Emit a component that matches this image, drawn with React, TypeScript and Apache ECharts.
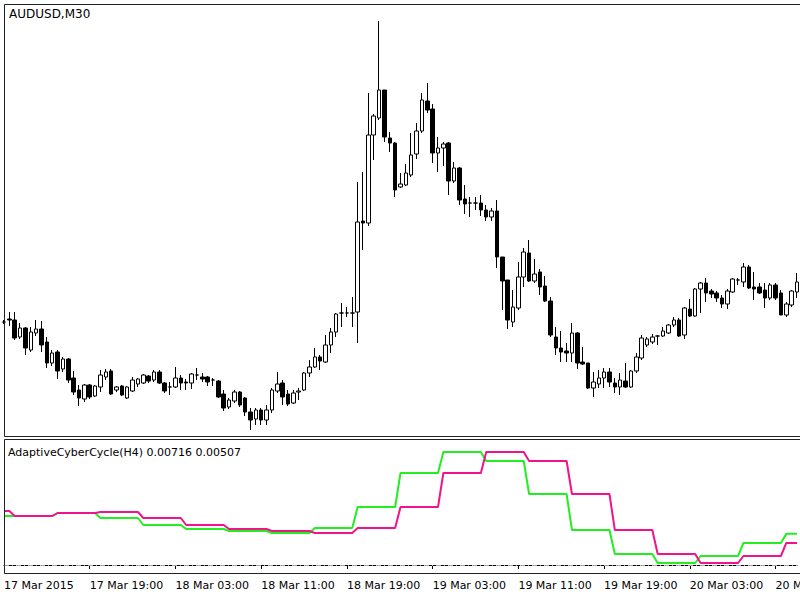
import React, { useEffect, useRef } from "react";
import * as echarts from "echarts";

// AUDUSD M30 bars, starting 17 Mar 2015 11:00
const openPrices = [
  0.76390, 0.76405, 0.76400, 0.76315, 0.76360, 0.76250, 0.76335, 0.76355, 0.76290, 0.76185,
  0.76240, 0.76155, 0.76205, 0.76110, 0.76050, 0.76005, 0.76075, 0.76020, 0.76065, 0.76115,
  0.76145, 0.76050, 0.76070, 0.76010, 0.76045, 0.76080, 0.76085, 0.76120, 0.76100, 0.76140,
  0.76085, 0.76065, 0.76065, 0.76110, 0.76090, 0.76085, 0.76125, 0.76115, 0.76115, 0.76100,
  0.76095, 0.76030, 0.75965, 0.75995, 0.76040, 0.76010, 0.75940, 0.75905, 0.75950, 0.75900,
  0.75950, 0.76045, 0.76085, 0.76030, 0.75985, 0.76040, 0.76050, 0.76135, 0.76165, 0.76215,
  0.76190, 0.76275, 0.76340, 0.76435, 0.76435, 0.76435, 0.76440, 0.76895, 0.76885, 0.77325,
  0.77410, 0.77550, 0.77310, 0.77285, 0.77065, 0.77075, 0.77125, 0.77230, 0.77345, 0.77495,
  0.77455, 0.77235, 0.77260, 0.77285, 0.77095, 0.77160, 0.77005, 0.76985, 0.76985, 0.76985,
  0.76950, 0.76915, 0.76945, 0.76715, 0.76600, 0.76390, 0.76460, 0.76615, 0.76735, 0.76595,
  0.76640, 0.76570, 0.76495, 0.76315, 0.76260, 0.76245, 0.76235, 0.76335, 0.76190, 0.76185,
  0.76060, 0.76080, 0.76110, 0.76140, 0.76085, 0.76065, 0.76095, 0.76065, 0.76145, 0.76210,
  0.76275, 0.76290, 0.76320, 0.76320, 0.76335, 0.76375, 0.76400, 0.76325, 0.76455, 0.76420,
  0.76555, 0.76585, 0.76545, 0.76535, 0.76510, 0.76480, 0.76540, 0.76600, 0.76590, 0.76665,
  0.76565, 0.76565, 0.76550, 0.76510, 0.76575, 0.76535, 0.76425, 0.76475, 0.76540,
];
const closePrices = [
  0.76390, 0.76400, 0.76310, 0.76360, 0.76260, 0.76340, 0.76355, 0.76275, 0.76185, 0.76235,
  0.76145, 0.76205, 0.76100, 0.76040, 0.76010, 0.76075, 0.76015, 0.76070, 0.76125, 0.76140,
  0.76030, 0.76065, 0.76025, 0.76065, 0.76100, 0.76105, 0.76125, 0.76095, 0.76140, 0.76085,
  0.76045, 0.76065, 0.76110, 0.76085, 0.76085, 0.76130, 0.76125, 0.76105, 0.76090, 0.76100,
  0.76015, 0.75960, 0.76000, 0.76040, 0.75975, 0.75940, 0.75900, 0.75950, 0.75900, 0.75950,
  0.76050, 0.76080, 0.76015, 0.75980, 0.76035, 0.76045, 0.76135, 0.76165, 0.76215, 0.76195,
  0.76275, 0.76340, 0.76430, 0.76435, 0.76435, 0.76435, 0.76890, 0.76885, 0.77325, 0.77420,
  0.77550, 0.77315, 0.77285, 0.77050, 0.77080, 0.77135, 0.77225, 0.77345, 0.77500, 0.77450,
  0.77235, 0.77260, 0.77280, 0.77095, 0.77160, 0.77000, 0.76980, 0.76985, 0.76985, 0.76950,
  0.76915, 0.76945, 0.76715, 0.76595, 0.76400, 0.76465, 0.76615, 0.76740, 0.76595, 0.76630,
  0.76565, 0.76495, 0.76325, 0.76260, 0.76240, 0.76235, 0.76335, 0.76185, 0.76180, 0.76060,
  0.76090, 0.76110, 0.76140, 0.76090, 0.76065, 0.76100, 0.76065, 0.76145, 0.76215, 0.76310,
  0.76305, 0.76315, 0.76320, 0.76345, 0.76375, 0.76400, 0.76320, 0.76460, 0.76420, 0.76555,
  0.76585, 0.76535, 0.76530, 0.76510, 0.76480, 0.76545, 0.76605, 0.76600, 0.76665, 0.76560,
  0.76555, 0.76535, 0.76510, 0.76575, 0.76510, 0.76425, 0.76480, 0.76545, 0.76590,
];
const lowPrices = [
  0.76380, 0.76370, 0.76300, 0.76305, 0.76225, 0.76240, 0.76320, 0.76240, 0.76160, 0.76170,
  0.76105, 0.76140, 0.76085, 0.76025, 0.75970, 0.75990, 0.76005, 0.76015, 0.76040, 0.76100,
  0.76025, 0.76040, 0.76020, 0.76005, 0.76040, 0.76065, 0.76080, 0.76085, 0.76090, 0.76080,
  0.76035, 0.76025, 0.76060, 0.76050, 0.76050, 0.76055, 0.76100, 0.76090, 0.76070, 0.76070,
  0.76010, 0.75945, 0.75955, 0.75985, 0.75965, 0.75920, 0.75850, 0.75875, 0.75875, 0.75875,
  0.75935, 0.76035, 0.75975, 0.75970, 0.75980, 0.76000, 0.76045, 0.76115, 0.76160, 0.76150,
  0.76185, 0.76235, 0.76315, 0.76365, 0.76415, 0.76365, 0.76285, 0.76750, 0.76870, 0.77200,
  0.77400, 0.77290, 0.77240, 0.77015, 0.77060, 0.77070, 0.77115, 0.77205, 0.77335, 0.77435,
  0.77185, 0.77140, 0.77170, 0.77025, 0.77085, 0.76975, 0.76930, 0.76915, 0.76950, 0.76920,
  0.76895, 0.76895, 0.76660, 0.76450, 0.76355, 0.76365, 0.76450, 0.76565, 0.76590, 0.76585,
  0.76525, 0.76490, 0.76315, 0.76225, 0.76190, 0.76190, 0.76190, 0.76155, 0.76175, 0.76055,
  0.76015, 0.76060, 0.76060, 0.76065, 0.76035, 0.76025, 0.76060, 0.76060, 0.76135, 0.76200,
  0.76265, 0.76280, 0.76275, 0.76315, 0.76330, 0.76365, 0.76315, 0.76305, 0.76415, 0.76415,
  0.76435, 0.76490, 0.76510, 0.76490, 0.76460, 0.76455, 0.76535, 0.76575, 0.76565, 0.76555,
  0.76500, 0.76530, 0.76460, 0.76500, 0.76500, 0.76425, 0.76415, 0.76465, 0.76510,
];
const highPrices = [
  0.76400, 0.76440, 0.76440, 0.76385, 0.76365, 0.76365, 0.76400, 0.76395, 0.76315, 0.76250,
  0.76250, 0.76215, 0.76210, 0.76145, 0.76075, 0.76080, 0.76080, 0.76075, 0.76150, 0.76155,
  0.76155, 0.76070, 0.76075, 0.76070, 0.76115, 0.76110, 0.76130, 0.76125, 0.76150, 0.76150,
  0.76090, 0.76090, 0.76165, 0.76125, 0.76105, 0.76135, 0.76160, 0.76135, 0.76120, 0.76110,
  0.76100, 0.76050, 0.76010, 0.76050, 0.76045, 0.76015, 0.75960, 0.75960, 0.75960, 0.75975,
  0.76060, 0.76140, 0.76100, 0.76050, 0.76050, 0.76060, 0.76140, 0.76200, 0.76260, 0.76225,
  0.76325, 0.76360, 0.76435, 0.76485, 0.76465, 0.76515, 0.77090, 0.77140, 0.77535, 0.77430,
  0.77895, 0.77550, 0.77340, 0.77290, 0.77135, 0.77180, 0.77335, 0.77385, 0.77535, 0.77585,
  0.77480, 0.77315, 0.77290, 0.77290, 0.77190, 0.77165, 0.77075, 0.77015, 0.77015, 0.77025,
  0.76975, 0.76960, 0.77000, 0.76715, 0.76600, 0.76550, 0.76690, 0.76760, 0.76800, 0.76705,
  0.76655, 0.76620, 0.76515, 0.76365, 0.76345, 0.76285, 0.76385, 0.76340, 0.76265, 0.76185,
  0.76140, 0.76150, 0.76160, 0.76160, 0.76110, 0.76135, 0.76185, 0.76150, 0.76235, 0.76325,
  0.76315, 0.76330, 0.76325, 0.76365, 0.76380, 0.76415, 0.76410, 0.76465, 0.76505, 0.76560,
  0.76590, 0.76610, 0.76555, 0.76545, 0.76525, 0.76555, 0.76610, 0.76610, 0.76685, 0.76675,
  0.76640, 0.76585, 0.76585, 0.76585, 0.76585, 0.76550, 0.76490, 0.76550, 0.76635,
];

// AdaptiveCyberCycle on H4, one value per H4 bar (17 Mar 08:00 .. 20 Mar 12:00)
const cycleH4 = [
  0.01127, 0.01127, 0.01196, 0.01081, 0.00920, 0.00828, 0.00782, 0.00736, 0.00851, 0.01334,
  0.02116, 0.02599, 0.02392, 0.01633, 0.00805, 0.00253, 0.00046, 0.00207, 0.00507, 0.00716,
];
const triggerH4 = [
  0.01242, 0.01127, 0.01196, 0.01219, 0.01081, 0.00920, 0.00828, 0.00782, 0.00736, 0.00851,
  0.01334, 0.02116, 0.02599, 0.02392, 0.01633, 0.00805, 0.00253, 0.00046, 0.00207, 0.00507,
];

const tickLabels = [
  "17 Mar 2015", "17 Mar 19:00", "18 Mar 03:00", "18 Mar 11:00", "18 Mar 19:00",
  "19 Mar 03:00", "19 Mar 11:00", "19 Mar 19:00", "20 Mar 03:00", "20 Mar 11:00",
];

const START_MIN = 11 * 60; // 17 Mar 11:00
const pad = (n: number) => (n < 10 ? "0" + n : "" + n);
const categories = openPrices.map((_, i) => {
  const m = START_MIN + 30 * i;
  const day = 17 + Math.floor(m / 1440);
  const r = m % 1440;
  return `${day} Mar ${pad(Math.floor(r / 60))}:${pad(r % 60)}`;
});
const h4Index = (i: number) => Math.floor((START_MIN + 30 * i) / 240) - 2;

export default function App() {
  const ref = useRef<HTMLDivElement>(null);
  useEffect(() => {
    if (!ref.current) return;
    const chart = echarts.init(ref.current, undefined, { renderer: "svg" });
    const candles = openPrices.map((o, i) => [o, closePrices[i], lowPrices[i], highPrices[i]]);
    const cycle = categories.map((_, i) => cycleH4[h4Index(i)]);
    const trigger = categories.map((_, i) => triggerH4[h4Index(i)]);
    const font = "DejaVu Sans";
    chart.setOption({
      animation: false,
      backgroundColor: "#ffffff",
      grid: [
        { left: 4, right: 3, top: 4, height: 433, containLabel: false, outerBoundsMode: "none" },
        { left: 4, right: 3, top: 440, height: 134, containLabel: false, outerBoundsMode: "none" },
      ],
      xAxis: [
        {
          type: "category", gridIndex: 0, data: categories, boundaryGap: false,
          show: false,
        },
        {
          type: "category", gridIndex: 1, data: categories, boundaryGap: false,
          axisLine: { show: true, lineStyle: { color: "#000", width: 1 } },
          axisTick: {
            show: true, inside: false, length: 4,
            interval: (i: number) => i % 16 === 0,
            lineStyle: { color: "#000" },
          },
          axisLabel: {
            show: true, interval: (i: number) => i % 16 === 0,
            formatter: (_v: string, i: number) => (i % 16 === 0 ? tickLabels[i / 16] ?? "" : ""),
            align: "left", margin: 6, color: "#000", fontFamily: font, fontSize: 11,
            hideOverlap: false,
          },
          splitLine: { show: false },
        },
      ],
      yAxis: [
        {
          type: "value", gridIndex: 0, min: 0.75815, max: 0.7798, show: false,
          splitLine: { show: false },
        },
        {
          type: "value", gridIndex: 1, min: -0.00207, max: 0.02875, show: false,
          splitLine: { show: false },
        },
      ],
      series: [
        {
          type: "candlestick", xAxisIndex: 0, yAxisIndex: 0, data: candles,
          barWidth: 4,
          itemStyle: {
            color: "#ffffff", color0: "#000000",
            borderColor: "#000000", borderColor0: "#000000", borderWidth: 1,
          },
        },
        {
          type: "line", name: "cycle", xAxisIndex: 1, yAxisIndex: 1, data: cycle,
          showSymbol: false, symbol: "none",
          lineStyle: { color: "#22ee22", width: 2 },
          markLine: {
            silent: true, symbol: "none", label: { show: false },
            lineStyle: { color: "#a8a8a8", type: [5, 3, 1, 3], width: 1 },
            data: [{ yAxis: 0 }],
          },
        },
        {
          type: "line", name: "trigger", xAxisIndex: 1, yAxisIndex: 1, data: trigger,
          showSymbol: false, symbol: "none",
          lineStyle: { color: "#f0138a", width: 2 },
        },
      ],
      graphic: [
        {
          type: "rect", silent: true, z: 100,
          shape: { x: 4.5, y: 4.5, width: 1000, height: 432 },
          style: { fill: "none", stroke: "#222", lineWidth: 1 },
        },
        {
          type: "rect", silent: true, z: 100,
          shape: { x: 4.5, y: 439.5, width: 1000, height: 134 },
          style: { fill: "none", stroke: "#222", lineWidth: 1 },
        },
        {
          type: "text", x: 9, y: 8, z: 101,
          style: { text: "AUDUSD,M30", fill: "#000", font: `12px "${font}"`, textVerticalAlign: "top" },
        },
        {
          type: "text", x: 8, y: 447, z: 101,
          style: {
            text: "AdaptiveCyberCycle(H4) 0.00716 0.00507", fill: "#000",
            font: `11px "${font}"`, textVerticalAlign: "top",
          },
        },
      ],
    });
    return () => chart.dispose();
  }, []);
  return (
    <div
      ref={ref}
      style={{ position: "absolute", left: 0, top: 0, width: 800, height: 600, background: "#fff" }}
    />
  );
}
